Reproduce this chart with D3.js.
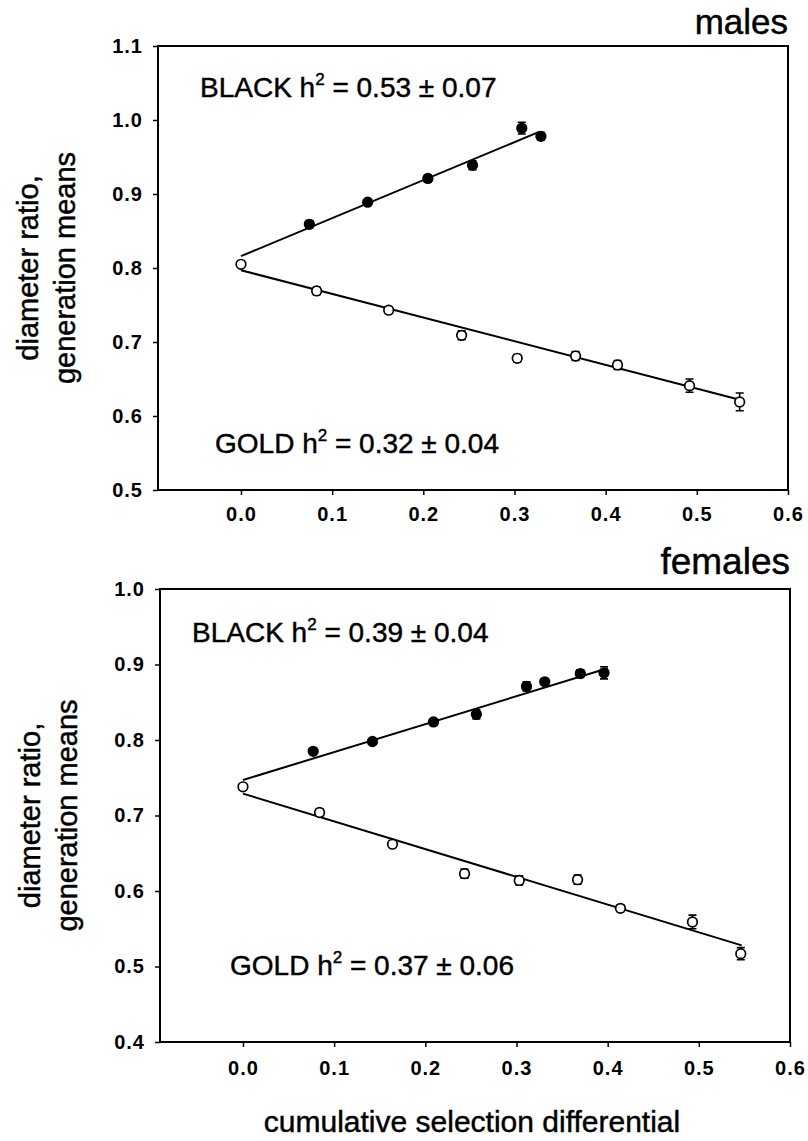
<!DOCTYPE html>
<html>
<head>
<meta charset="utf-8">
<script src="https://cdn.jsdelivr.net/npm/d3@7"></script>
<style>
  body { margin: 0; background: #fff; }
  text { font-family: "Liberation Sans", Arial, sans-serif; fill: #000; }
  .heavy { stroke: #000; stroke-width: 0.45px; }
</style>
</head>
<body>
<svg id="chart" width="808" height="1141"></svg>
<script>
// tick values
var xTicks = [0.0, 0.1, 0.2, 0.3, 0.4, 0.5, 0.6];
var maleYTicks = [0.5, 0.6, 0.7, 0.8, 0.9, 1.0, 1.1];
var femaleYTicks = [0.4, 0.5, 0.6, 0.7, 0.8, 0.9, 1.0];

// males: starting generation (open), black line, gold line
var maleStartX = [0.0];
var maleStartY = [0.805];
var maleStartErr = [0.003];
var maleBlackX = [0.075, 0.139, 0.205, 0.254, 0.308, 0.329];
var maleBlackY = [0.859, 0.889, 0.921, 0.939, 0.989, 0.978];
var maleBlackErr = [0.005, 0.003, 0.005, 0.006, 0.008, 0.005];
var maleGoldX = [0.083, 0.162, 0.242, 0.303, 0.367, 0.413, 0.492, 0.547];
var maleGoldY = [0.769, 0.743, 0.709, 0.678, 0.681, 0.669, 0.641, 0.619];
var maleGoldErr = [0.005, 0.004, 0.006, 0.005, 0.006, 0.006, 0.009, 0.012];
var maleBlackFitX = [0.0, 0.327];
var maleBlackFitY = [0.816, 0.984];
var maleGoldFitX = [0.0, 0.547];
var maleGoldFitY = [0.797, 0.622];

// females
var femaleStartX = [0.0];
var femaleStartY = [0.738];
var femaleStartErr = [0.003];
var femaleBlackX = [0.077, 0.142, 0.209, 0.256, 0.311, 0.331, 0.370, 0.396];
var femaleBlackY = [0.785, 0.798, 0.824, 0.834, 0.871, 0.877, 0.888, 0.889];
var femaleBlackErr = [0.003, 0.003, 0.004, 0.006, 0.006, 0.004, 0.005, 0.008];
var femaleGoldX = [0.084, 0.164, 0.243, 0.303, 0.367, 0.414, 0.493, 0.546];
var femaleGoldY = [0.704, 0.662, 0.623, 0.614, 0.615, 0.577, 0.559, 0.517];
var femaleGoldErr = [0.005, 0.004, 0.006, 0.006, 0.006, 0.004, 0.009, 0.008];
var femaleBlackFitX = [0.0, 0.40];
var femaleBlackFitY = [0.747, 0.895];
var femaleGoldFitX = [0.0, 0.547];
var femaleGoldFitY = [0.729, 0.528];

var svg = d3.select("#chart");

function zip(xs, ys, es) {
  return xs.map(function(x, i) { return {x: x, y: ys[i], e: es ? es[i] : 0}; });
}

function drawPanel(cfg) {
  var x = d3.scaleLinear().domain([-0.091, 0.6]).range([cfg.left, cfg.right]);
  var y = d3.scaleLinear().domain(cfg.yDomain).range([cfg.bottom, cfg.top]);
  var g = svg.append("g");

  var yAxis = g.append("g")
    .attr("transform", "translate(" + cfg.left + ",0)")
    .call(d3.axisLeft(y).tickValues(cfg.yTicks).tickFormat(d3.format(".1f")).tickSize(5).tickPadding(10));
  var xAxis = g.append("g")
    .attr("transform", "translate(0," + cfg.bottom + ")")
    .call(d3.axisBottom(x).tickValues(xTicks).tickFormat(d3.format(".1f")).tickSize(5).tickPadding(cfg.xPad));
  [xAxis, yAxis].forEach(function(a) {
    a.select(".domain").remove();
    a.selectAll("line").attr("stroke", "#000").attr("stroke-width", 1.5);
    a.selectAll("text").style("font-size", "20px").style("font-weight", "bold").style("letter-spacing", "1px");
  });

  g.append("rect")
    .attr("x", cfg.left).attr("y", cfg.top)
    .attr("width", cfg.right - cfg.left).attr("height", cfg.bottom - cfg.top)
    .attr("fill", "none").attr("stroke", "#000").attr("stroke-width", 2);

  var line = d3.line().x(function(d) { return x(d.x); }).y(function(d) { return y(d.y); });
  [zip(cfg.blackFitX, cfg.blackFitY), zip(cfg.goldFitX, cfg.goldFitY)].forEach(function(fit) {
    g.append("path").attr("d", line(fit)).attr("fill", "none").attr("stroke", "#000").attr("stroke-width", 2);
  });

  function points(data, filled) {
    var pg = g.append("g");
    pg.selectAll(".eb").data(data).enter().append("path")
      .attr("d", function(d) {
        var cx = x(d.x), y0 = y(d.y - d.e), y1 = y(d.y + d.e);
        return "M" + cx + "," + y0 + "V" + y1 + "M" + (cx - 4) + "," + y0 + "H" + (cx + 4) +
               "M" + (cx - 4) + "," + y1 + "H" + (cx + 4);
      })
      .attr("stroke", "#000").attr("stroke-width", 1.6).attr("fill", "none");
    pg.selectAll("circle").data(data).enter().append("circle")
      .attr("cx", function(d) { return x(d.x); })
      .attr("cy", function(d) { return y(d.y); })
      .attr("r", 4.8)
      .attr("fill", filled ? "#000" : "#fff")
      .attr("stroke", "#000").attr("stroke-width", 1.7);
  }
  points(zip(cfg.blackX, cfg.blackY, cfg.blackErr), true);
  points(zip(cfg.goldX, cfg.goldY, cfg.goldErr), false);
  points(zip(cfg.startX, cfg.startY, cfg.startErr), false);

  function label(px, py, pre, h2) {
    var t = g.append("text").attr("class", "heavy").attr("x", px).attr("y", py).style("font-size", "28px");
    t.append("tspan").text(pre + "h");
    t.append("tspan").attr("dy", -12).style("font-size", "17px").text("2");
    t.append("tspan").attr("dy", 12).text(" = " + h2);
  }
  label(cfg.blackLabel[0], cfg.blackLabel[1], "BLACK ", cfg.blackText);
  label(cfg.goldLabel[0], cfg.goldLabel[1], "GOLD ", cfg.goldText);

  g.append("text").attr("class", "heavy").attr("x", cfg.right).attr("y", cfg.titleY)
    .attr("text-anchor", "end").style("font-size", cfg.titleSize).text(cfg.title);

  var cy = (cfg.top + cfg.bottom) / 2;
  g.append("text").attr("class", "heavy").attr("transform", "translate(" + cfg.yt1 + "," + cy + ") rotate(-90)")
    .attr("text-anchor", "middle").style("font-size", "29px").text("diameter ratio,");
  g.append("text").attr("class", "heavy").attr("transform", "translate(" + cfg.yt2 + "," + cy + ") rotate(-90)")
    .attr("text-anchor", "middle").style("font-size", "29px").text("generation means");
}

drawPanel({
  left: 158, right: 788, top: 46, bottom: 490,
  yDomain: [0.5, 1.1], yTicks: maleYTicks, xPad: 12,
  startX: maleStartX, startY: maleStartY, startErr: maleStartErr,
  blackX: maleBlackX, blackY: maleBlackY, blackErr: maleBlackErr,
  goldX: maleGoldX, goldY: maleGoldY, goldErr: maleGoldErr,
  blackFitX: maleBlackFitX, blackFitY: maleBlackFitY,
  goldFitX: maleGoldFitX, goldFitY: maleGoldFitY,
  blackLabel: [200, 97], blackText: "0.53 \u00b1 0.07",
  goldLabel: [215, 453], goldText: "0.32 \u00b1 0.04",
  title: "males", titleY: 34, titleSize: "35px", yt1: 38, yt2: 75
});

drawPanel({
  left: 160, right: 790, top: 589, bottom: 1042,
  yDomain: [0.4, 1.0], yTicks: femaleYTicks, xPad: 14,
  startX: femaleStartX, startY: femaleStartY, startErr: femaleStartErr,
  blackX: femaleBlackX, blackY: femaleBlackY, blackErr: femaleBlackErr,
  goldX: femaleGoldX, goldY: femaleGoldY, goldErr: femaleGoldErr,
  blackFitX: femaleBlackFitX, blackFitY: femaleBlackFitY,
  goldFitX: femaleGoldFitX, goldFitY: femaleGoldFitY,
  blackLabel: [192, 642], blackText: "0.39 \u00b1 0.04",
  goldLabel: [230, 975], goldText: "0.37 \u00b1 0.06",
  title: "females", titleY: 574, titleSize: "37px", yt1: 40, yt2: 77
});

svg.append("text").attr("class", "heavy").attr("x", 472).attr("y", 1132)
  .attr("text-anchor", "middle").style("font-size", "30px")
  .text("cumulative selection differential");
</script>
</body>
</html>
